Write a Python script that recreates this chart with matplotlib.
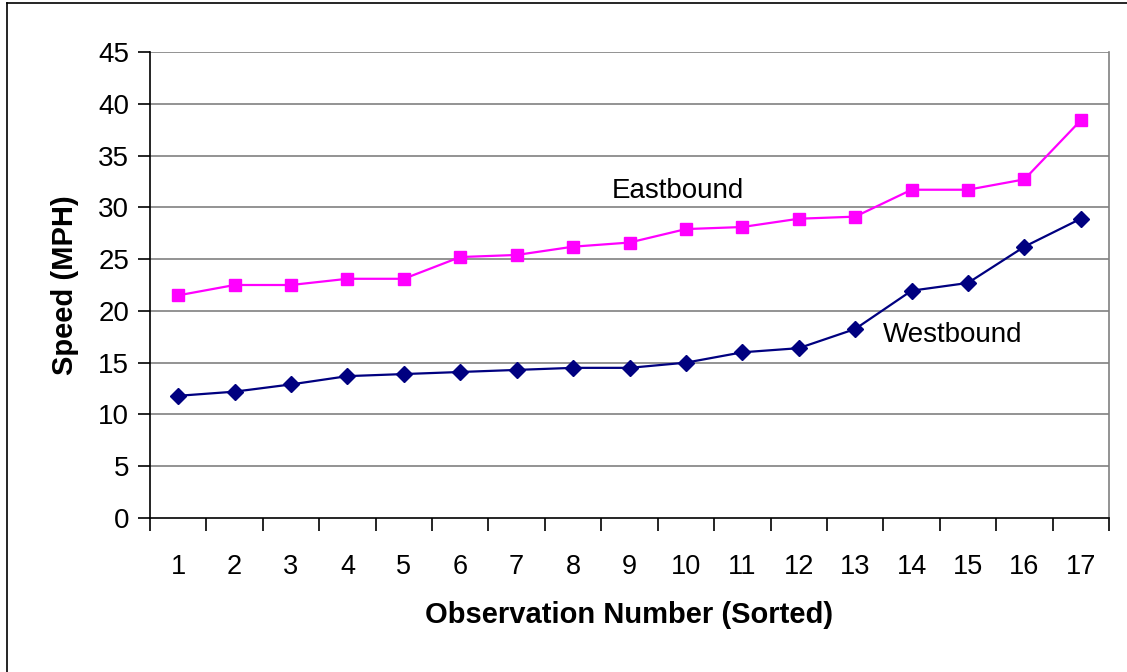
import matplotlib.pyplot as plt
from matplotlib.lines import Line2D

plt.rcParams['font.family'] = ['Liberation Sans', 'DejaVu Sans']

obs = list(range(1, 18))
eastbound = [21.5, 22.5, 22.5, 23.1, 23.1, 25.2, 25.4, 26.2, 26.6,
             27.9, 28.1, 28.9, 29.1, 31.7, 31.7, 32.7, 38.4]
westbound = [11.8, 12.2, 12.9, 13.7, 13.9, 14.1, 14.3, 14.5, 14.5,
             15.0, 16.0, 16.4, 18.25, 21.95, 22.7, 26.2, 28.9]
yticks = list(range(0, 50, 5))

fig = plt.figure(figsize=(11.27, 6.72), dpi=100)
ax = fig.add_axes([150 / 1127, 1 - 518 / 672, (1109 - 150) / 1127, (518 - 52) / 672])

# outer chart border (only top and left edges fall inside the image)
fig.add_artist(Line2D([7 / 1127, 7 / 1127], [0, 1 - 3 / 672], color='black', lw=1.2,
                      transform=fig.transFigure))
fig.add_artist(Line2D([7 / 1127, 1], [1 - 3 / 672, 1 - 3 / 672], color='black', lw=1.2,
                      transform=fig.transFigure))

for y in yticks[1:]:
    ax.axhline(y, color='#808080', lw=1.2, zorder=1)

ax.plot(obs, eastbound, color='#ff00ff', lw=1.6, marker='s', ms=9, zorder=3)
ax.plot(obs, westbound, color='#000080', lw=1.6, marker='D', ms=8, zorder=3)

ax.set_xlim(0.5, 17.5)
ax.set_ylim(0, 45)
ax.set_yticks(yticks)
ax.set_xticks(obs)
ax.set_xticks([i + 0.5 for i in range(0, 18)], minor=True)
ax.tick_params(axis='x', which='major', length=0, pad=26, labelsize=19.5)
ax.tick_params(axis='x', which='minor', length=9, width=1.2, color='black')
ax.tick_params(axis='y', length=9, width=1.2, pad=6, labelsize=20)

ax.spines['top'].set_visible(False)
ax.spines['right'].set_color('#808080')
ax.spines['right'].set_linewidth(1.2)
ax.spines['left'].set_linewidth(1.2)
ax.spines['bottom'].set_linewidth(1.2)

ax.set_xlabel('Observation Number (Sorted)', fontsize=21, fontweight='bold', labelpad=15)
ax.set_ylabel('Speed (MPH)', fontsize=21, fontweight='bold', labelpad=14)

ax.text(9.86, 31.6, 'Eastbound', fontsize=20, ha='center', va='center')
ax.text(14.73, 17.66, 'Westbound', fontsize=20, ha='center', va='center')

fig.savefig('out.png', dpi=100)
